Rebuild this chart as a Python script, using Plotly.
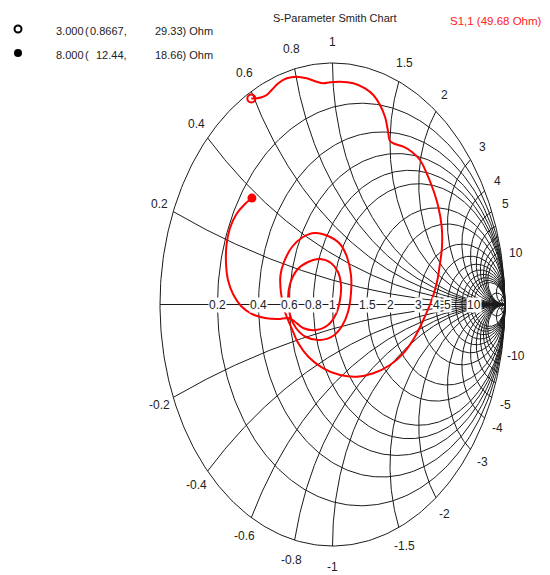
import numpy as np
import plotly.graph_objects as go

# ---------------- data ----------------
z0_ohm = 49.68
marker_freq = [3.000, 8.000]
marker_r_ohm = [0.8667, 12.44]
marker_x_ohm = [29.33, 18.66]

# reflection coefficient trace S1,1 (real / imaginary parts), between the two markers
curve_re = [-0.4394, -0.4104, -0.3814, -0.3525, -0.3142, -0.2655, -0.2075, -0.1496, -0.0916,
            -0.0533, -0.0145, 0.0435, 0.1206, 0.1884, 0.2365, 0.2754, 0.3043, 0.3217, 0.3333,
            0.3623, 0.4104, 0.4591, 0.5072, 0.5461, 0.5843, 0.6133, 0.6330, 0.6348, 0.6232,
            0.6041, 0.5710, 0.5264, 0.4783, 0.4104, 0.3333, 0.2365, 0.1403, 0.0435, -0.0533,
            -0.1403, -0.1983, -0.2365, -0.2754, -0.2986, -0.3014, -0.2812, -0.2348, -0.1710,
            -0.1014, -0.0261, 0.0435, 0.0841, 0.1072, 0.1072, 0.0899, 0.0551, 0.0029, -0.0725,
            -0.1536, -0.2116, -0.2464, -0.2580, -0.2464, -0.2058, -0.1420, -0.0725, -0.0087,
            0.0319, 0.0493, 0.0435, 0.0203, -0.0261, -0.0957, -0.1710, -0.2232, -0.2580,
            -0.3159, -0.3913, -0.4667, -0.5304, -0.5768, -0.6058, -0.6174, -0.6145, -0.5942,
            -0.5565, -0.5130]
curve_im = [0.8538, 0.8580, 0.8675, 0.8882, 0.9159, 0.9366, 0.9433, 0.9366, 0.9226,
            0.9159, 0.9201, 0.9226, 0.9159, 0.8952, 0.8675, 0.8261, 0.7776, 0.7184, 0.6770,
            0.6646, 0.6534, 0.6327, 0.5983, 0.5433, 0.4741, 0.4050, 0.3222, 0.2393, 0.1706,
            0.0878, 0.0104, -0.0642, -0.1333, -0.2021, -0.2505, -0.2849, -0.2990, -0.2919, -0.2642,
            -0.2161, -0.1607, -0.0986, -0.0311, 0.0476, 0.1222, 0.1760, 0.2381, 0.2795,
            0.2961, 0.2836, 0.2505, 0.1967, 0.1222, 0.0476, -0.0311, -0.0890, -0.1304, -0.1470,
            -0.1346, -0.0973, -0.0435, 0.0269, 0.0849, 0.1429, 0.1760, 0.1884, 0.1718,
            0.1346, 0.0807, 0.0186, -0.0393, -0.0849, -0.1056, -0.0973, -0.0683, -0.0559,
            -0.0600, -0.0559, -0.0393, -0.0062, 0.0435, 0.1014, 0.1718, 0.2464, 0.3168,
            0.3747, 0.4120]

grid_r = [0.2, 0.4, 0.6, 0.8, 1, 1.5, 2, 3, 4, 5, 6, 7, 8, 9, 10, 20, 50]
grid_x = [0.2, 0.4, 0.6, 0.8, 1, 1.5, 2, 3, 4, 5, 6, 7, 8, 9, 10, 20, 50]
axis_label_values = [0.2, 0.4, 0.6, 0.8, 1, 1.5, 2, 3, 4, 5, 10]
axis_label_texts = ["0.2", "0.4", "0.6", "0.8", "1", "1.5", "2", "3", "4", "5", "10"]
rim_label_values = [0.2, 0.4, 0.6, 0.8, 1, 1.5, 2, 3, 4, 5, 10,
                    -0.2, -0.4, -0.6, -0.8, -1, -1.5, -2, -3, -4, -5, -10]
rim_label_texts = ["0.2", "0.4", "0.6", "0.8", "1", "1.5", "2", "3", "4", "5", "10",
                   "-0.2", "-0.4", "-0.6", "-0.8", "-1", "-1.5", "-2", "-3", "-4", "-5", "-10"]

title_text = "S-Parameter Smith Chart"
trace_label = "S1,1 (49.68 Ohm)"

# ---------------- geometry of the page ----------------
PAGE_W, PAGE_H = 550, 575
OFF = 8                      # default body margin of the html page
W, H = PAGE_W - OFF, PAGE_H - OFF
CX, CY = 332.5, 304.5        # chart centre in page pixels
RX, RY = 172.5, 241.5        # chart radii in pixels (the chart is drawn as an ellipse)


def pdata(px, py):
    return (px - CX) / RX, (CY - py) / RY


def gamma(r, x):
    z = complex(r, x)
    g = (z - 1) / (z + 1)
    return g.real, g.imag


# ---------------- grid ----------------
gx, gy = [], []
th = np.linspace(0, 2 * np.pi, 361)
for r in [0] + grid_r:
    c, rho = r / (1 + r), 1 / (1 + r)
    gx += list(c + rho * np.cos(th)) + [None]
    gy += list(rho * np.sin(th)) + [None]
for xv in grid_x:
    g0x, g0y = gamma(0, xv)
    a0 = np.arctan2(g0y - 1 / xv, g0x - 1) % (2 * np.pi)
    a = np.linspace(a0, 1.5 * np.pi, 200)
    ax = 1 + np.cos(a) / xv
    ay = 1 / xv + np.sin(a) / xv
    gx += list(ax) + [None] + list(ax) + [None]
    gy += list(ay) + [None] + list(-ay) + [None]
gx += [-1, 1, None]
gy += [0, 0, None]

fig = go.Figure()
fig.add_trace(go.Scatter(x=gx, y=gy, mode="lines",
                         line=dict(color="#1a1a1a", width=1), hoverinfo="skip"))

# ---------------- S11 curve ----------------
mk = [gamma(r / z0_ohm, x / z0_ohm) for r, x in zip(marker_r_ohm, marker_x_ohm)]
cx = [mk[0][0]] + curve_re + [mk[1][0]]
cy = [mk[0][1]] + curve_im + [mk[1][1]]
fig.add_trace(go.Scatter(x=cx, y=cy, mode="lines", line=dict(color="#ff0000", width=2),
                         line_shape="spline"))
fig.add_trace(go.Scatter(x=[mk[0][0]], y=[mk[0][1]], mode="markers",
                         marker=dict(symbol="circle-open", size=8, color="#ff0000",
                                     line=dict(width=2, color="#ff0000"))))
fig.add_trace(go.Scatter(x=[mk[1][0]], y=[mk[1][1]], mode="markers",
                         marker=dict(symbol="circle", size=9, color="#ff0000")))

# ---------------- legend markers (top-left) ----------------
l1 = pdata(18, 29)
l2 = pdata(18, 53)
fig.add_trace(go.Scatter(x=[l1[0]], y=[l1[1]], mode="markers",
                         marker=dict(symbol="circle-open", size=7, color="black",
                                     line=dict(width=2, color="black"))))
fig.add_trace(go.Scatter(x=[l2[0]], y=[l2[1]], mode="markers",
                         marker=dict(symbol="circle", size=8, color="black")))

FAM = "Liberation Sans, Arial, sans-serif"
font = dict(family=FAM, size=12, color="#222222")
small = dict(family=FAM, size=11, color="#222222")
ann = []
for v, t in zip(axis_label_values, axis_label_texts):
    ann.append(dict(x=(v - 1) / (v + 1), y=0, text=t, showarrow=False, font=font,
                    bgcolor="white", borderpad=0, xanchor="center", yanchor="middle"))
for v, t in zip(rim_label_values, rim_label_texts):
    px_, py_ = gamma(0, v)
    ann.append(dict(x=px_ * 1.085, y=py_ * 1.085, text=t, showarrow=False, font=font,
                    xanchor="center", yanchor="middle"))

tx, ty = pdata(334, 18)
ann.append(dict(x=tx, y=ty, text=title_text, showarrow=False, font=small,
                xanchor="center", yanchor="middle"))
rx_, ry_ = pdata(544, 21)
ann.append(dict(x=rx_, y=ry_, text=trace_label, showarrow=False,
                font=dict(family=FAM, size=11.5, color="#ff2020"),
                xanchor="right", yanchor="middle"))

rows = [(31, 0), (55, 1)]
for py_, i in rows:
    a = pdata(54, py_)
    ann.append(dict(x=a[0], y=a[1], text="%.3f" % marker_freq[i], showarrow=False, font=small,
                    xanchor="left", yanchor="middle"))
    a2 = pdata(83, py_)
    ann.append(dict(x=a2[0], y=a2[1], text="(", showarrow=False, font=small,
                    xanchor="left", yanchor="middle"))
    b = pdata(129, py_)
    rtxt = ("%.4f" % marker_r_ohm[i]) if marker_r_ohm[i] < 1 else ("%.2f" % marker_r_ohm[i])
    ann.append(dict(x=b[0], y=b[1], text=rtxt + ",", showarrow=False, font=small,
                    xanchor="right", yanchor="middle"))
    c = pdata(215, py_)
    ann.append(dict(x=c[0], y=c[1], text="%.2f) Ohm" % marker_x_ohm[i], showarrow=False,
                    font=small, xanchor="right", yanchor="middle"))

# axis ranges chosen so that the page pixel geometry above is reproduced
fig.update_layout(
    width=W, height=H, margin=dict(l=0, r=0, t=0, b=0),
    paper_bgcolor="white", plot_bgcolor="white", showlegend=False,
    xaxis=dict(range=[(OFF - CX) / RX, (PAGE_W - CX) / RX], visible=False, fixedrange=True),
    yaxis=dict(range=[(CY - PAGE_H) / RY, (CY - OFF) / RY], visible=False, fixedrange=True),
    annotations=ann,
)

fig.write_html("out.html")
